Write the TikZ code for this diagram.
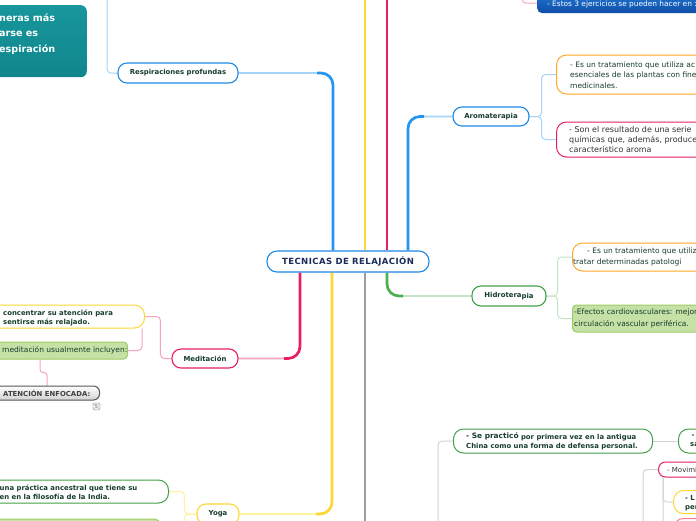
\documentclass[tikz,border=0pt]{standalone}
\usepackage{fontspec}
\setmainfont{DejaVu Sans}
\usetikzlibrary{calc,backgrounds}
\definecolor{cblue}{HTML}{2196F3}
\definecolor{nblue}{HTML}{1E88E5}
\definecolor{lblue}{HTML}{A7D5FA}
\definecolor{cyel}{HTML}{FDD835}
\definecolor{lyel}{HTML}{FFF39A}
\definecolor{cpink}{HTML}{E91E63}
\definecolor{lpink}{HTML}{F6A5C0}
\definecolor{cgrn}{HTML}{4CAF50}
\definecolor{lgrnline}{HTML}{C5E3C6}
\definecolor{dgrn}{HTML}{43A047}
\definecolor{cgray}{HTML}{9E9E9E}
\definecolor{lgray}{HTML}{D3D3D3}
\definecolor{corange}{HTML}{FFA726}
\definecolor{gfill}{HTML}{C5E1A5}
\definecolor{gdraw}{HTML}{9CCC65}
\definecolor{teal1}{HTML}{17969C}
\definecolor{teal2}{HTML}{10868C}
\definecolor{eblue1}{HTML}{1E74D0}
\definecolor{eblue2}{HTML}{0F4FA8}
\definecolor{dtext}{HTML}{173D2E}
\definecolor{navy}{HTML}{1A2B5C}
\definecolor{gtext}{HTML}{333333}
\definecolor{ggray}{HTML}{555555}
\newcommand\tkb{\fontsize{6.9}{9}\selectfont\bfseries}
\newcommand\tkr{\fontsize{7.5}{10.8}\selectfont}
\tikzset{
  topic/.style={draw, line width=1.1pt, fill=white, rounded corners=9pt, inner sep=0pt, font=\tkb, text=dtext},
  box/.style={draw, line width=1pt, fill=white, rounded corners=10pt, inner sep=0pt},
  gbox/.style={draw=gdraw, line width=1pt, fill=gfill, rounded corners=4pt, inner sep=0pt},
  txt/.style={anchor=west, align=left, inner sep=0pt, text=dtext},
  mainline/.style={line width=2.7pt, rounded corners=12pt},
  lightline/.style={line width=1.6pt, rounded corners=12pt},
  sub/.style={line width=1pt, rounded corners=4pt}
}
\begin{document}
\begin{tikzpicture}[x=1pt,y=-1pt]
\useasboundingbox (0,0) rectangle (696,520);
\clip (0,0) rectangle (696,520);
% main topics
\node[topic, draw=nblue, rounded corners=10pt, minimum width=162pt, minimum height=21pt, text=navy, font=\fontsize{8.5}{10}\selectfont\bfseries\addfontfeatures{LetterSpace=5}] (c) at (348,261.5) {TECNICAS DE RELAJACIÓN};
\node[topic, draw=nblue, minimum width=120pt, minimum height=20pt] (resp) at (178,73) {Respiraciones profundas};
\node[topic, draw=nblue, minimum width=76pt, minimum height=19pt] (arom) at (491,116.5) {Aromaterapia};
\node[topic, draw=dgrn, minimum width=74pt, minimum height=20pt] (hidro) at (509,296) {Hidrotera\raisebox{-1.5pt}{pia}};
\node[topic, draw=cpink, minimum width=66pt, minimum height=19pt] (medit) at (205,358.5) {Meditación};
\node[topic, draw=cyel, minimum width=42pt, minimum height=20pt] (yoga) at (218,514) {Yoga};
% teal box
\node[top color=teal1, bottom color=teal2, rounded corners=6pt, minimum width=110pt, minimum height=72pt, anchor=north east, inner sep=0pt] (teal) at (87,5) {};
\node[txt, text=white, font=\fontsize{9.6}{15.5}\selectfont\bfseries] (tealt) at (-1,34) {neras más\\arse es\\espiración};
% top blue
\node[top color=eblue1, bottom color=eblue2, rounded corners=5pt, minimum width=200pt, minimum height=20pt, anchor=north west, inner sep=0pt] (estos) at (537,-7) {};
\node[txt, text=white, font=\fontsize{7.4}{9}\selectfont] (estost) at (547,4.5) {- Estos 3 ejercicios se pueden hacer en :};
% aromaterapia children
\node[box, draw=corange, minimum width=250pt, minimum height=39pt, anchor=west] (ao) at (556,74.5) {};
\node[txt, font=\tkr] (aot) at (570,75) {- Es un tratamiento que utiliza ac\\esenciales de las plantas con fine\\medicinales.};
\node[box, draw=cpink, minimum width=250pt, minimum height=35pt, anchor=west] (ap) at (556,139.5) {};
\node[txt, text=gtext, font=\fontsize{8}{9.8}\selectfont] (apt) at (569,139.5) {- Son el resultado de una serie\\químicas que, además, produce\\característico aroma};
% hidroterapia children
\node[box, draw=corange, minimum width=250pt, minimum height=28pt, anchor=west] (ho) at (572,257) {};
\node[txt, font=\tkr] (hot) at (573,257) {\hspace*{14pt}- Es un tratamiento que utiliz\\tratar determinadas patologi};
\node[gbox, minimum width=250pt, minimum height=27pt, anchor=west] (hg) at (572,318.5) {};
\node[txt, font=\fontsize{7.5}{12}\selectfont] (hgt) at (574,318.5) {-Efectos cardiovasculares: mejor\\circulación vascular periférica.};
% meditacion children
\node[box, draw=cyel, minimum width=250pt, minimum height=23pt, anchor=east] (my) at (145,316.5) {};
\node[txt, font=\tkb] (myt) at (3,317.5) {concentrar su atención para\\sentirse más relajado.};
\node[gbox, minimum width=250pt, minimum height=17pt, anchor=east] (mg) at (128,350.5) {};
\node[txt, font=\tkr] (mgt) at (2,350.5) {meditación usualmente incluyen:};
\node[box, draw=ggray, top color=white, bottom color=black!18, rounded corners=6pt, minimum width=200pt, minimum height=14pt, anchor=east] (ma) at (100,393) {};
\node[txt, text=black!75, font=\tkb] (mat) at (3,393) {ATENCIÓN ENFOCADA:};
\node[draw=black!45, fill=black!8, rounded corners=1.5pt, minimum size=7pt, inner sep=0pt, text=black!55, font=\fontsize{5}{5}\selectfont] (badge) at (96.5,406.5) {5};
% yoga children
\node[box, draw=dgrn, minimum width=250pt, minimum height=23pt, anchor=east] (yg) at (169,491.5) {};
\node[txt, font=\tkb] (ygt) at (-0.5,492) {una práctica ancestral que tiene su\\en en la filosofía de la India.};
\node[gbox, minimum width=250pt, minimum height=26pt, rounded corners=8pt, anchor=east] (yg2) at (162,532) {};
% gray branch
\node[box, draw=dgrn, minimum width=199pt, minimum height=24pt, anchor=west] (pg1) at (453,441) {};
\node[txt, font=\tkb] (pg1t) at (466,441) {\raisebox{1pt}{\fontsize{7.4}{9}\selectfont - Se practicó} por primera vez en la antigua\\China como una forma de defensa personal.};
\node[box, draw=dgrn, minimum width=100pt, minimum height=24pt, anchor=west] (pg2) at (678,441) {};
\node[txt, font=\tkb] (pg2t) at (690,441) {\hspace*{1.5pt}-\\sa};
\node[box, draw=cpink, rounded corners=7pt, minimum width=100pt, minimum height=15pt, anchor=west] (pm) at (658,469.5) {};
\node[txt, text=gtext, font=\fontsize{7}{9}\selectfont] (pmt) at (667,470) {- Movimi};
\node[box, draw=cyel, minimum width=100pt, minimum height=23pt, anchor=west] (py) at (673,502) {};
\node[txt, font=\tkb] (pyt) at (685,503) {- L\\per};
\node[box, draw=cpink!60, minimum width=100pt, minimum height=20pt, anchor=north west] (pp) at (673,518) {};
% connectors
\begin{scope}[on background layer]
\fill[white] (0,0) rectangle (696,520);
\clip (0,0) rectangle (696,520);
\coordinate (bt1) at ([xshift=-15pt]c.north);
\coordinate (yt1) at ([xshift=17pt]c.north);
\coordinate (rt1) at ([xshift=39pt]c.north);
\coordinate (bt2) at ([xshift=60pt]c.north);
\coordinate (rb1) at ([xshift=-48pt]c.south);
\coordinate (yb1) at ([xshift=-16pt]c.south);
\coordinate (gb1) at ([xshift=17pt]c.south);
\coordinate (grb) at ([xshift=39pt]c.south);
\coordinate (ytop) at (365,-10);
\coordinate (rtop) at (387,-10);
\coordinate (gbot) at (365,540);
\coordinate (respup) at (107,-10);
\coordinate (gup) at (438,540);
\coordinate (gup2) at (643,540);
\coordinate (pk) at (522,-10);
% main branches
\draw[mainline, cyel] (yt1) -- (ytop);
\draw[mainline, cpink] (rt1) -- (rtop);
\draw[mainline, cgray] (gb1) -- (gbot);
\draw[lightline, lblue] (bt1) |- (resp.east);
\draw[mainline, cblue] (bt1) |- ($(bt1 |- resp.east)+(-16,0)$);
\draw[lightline, lblue] (bt2) |- (arom.west);
\draw[mainline, cblue] (bt2) |- ($(bt2 |- arom.west)+(16,0)$);
\draw[lightline, lgrnline] (grb) |- (hidro.west);
\draw[mainline, cgrn] (grb) |- ($(grb |- hidro.west)+(16,0)$);
\draw[lightline, lpink] (rb1) |- (medit.east);
\draw[mainline, cpink] (rb1) |- ($(rb1 |- medit.east)+(-16,0)$);
\draw[lightline, lyel] (yb1) |- (yoga.east);
\draw[mainline, cyel] (yb1) |- ($(yb1 |- yoga.east)+(-16,0)$);
% sub connectors
\draw[sub, lblue] (resp.west) -| (respup);
\draw[sub, lblue] (arom.east) -- ++(12,0) |- (ao.west);
\draw[sub, lblue] (arom.east) -- ++(12,0) |- (ap.west);
\draw[sub, lgrnline] (hidro.east) -- ++(11,0) |- (ho.west);
\draw[sub, lgrnline] (hidro.east) -- ++(11,0) |- (hg.west);
\draw[sub, lpink] (medit.west) -- ++(-11,0) |- (my.east);
\draw[sub, lpink] ([xshift=-3pt]my.south east) |- (mg.east);
\draw[sub, lpink, rounded corners=3pt] ([xshift=-88pt]mg.south east) -- ++(0,13) -| ([xshift=-53pt]ma.north east);
\draw[sub, lyel] (yoga.west) -- ++(-12,0) |- (yg.east);
\draw[sub, lyel] (yoga.west) -- ++(-12,0) |- (yg2.east);
\draw[sub, lgray] (gup) |- (pg1.west);
\draw[sub, lgray] (pg1.east) -- (pg2.west);
\draw[sub, lgray] (gup2) |- (pm.west);
\draw[sub, lgray] ([xshift=5pt]pm.south west) |- (py.west);
\draw[sub, lgray] ([xshift=5pt]pm.south west) |- (pp.west);
\draw[sub, lpink] (pk) |- (estos.west);
\end{scope}
\end{tikzpicture}
\end{document}
